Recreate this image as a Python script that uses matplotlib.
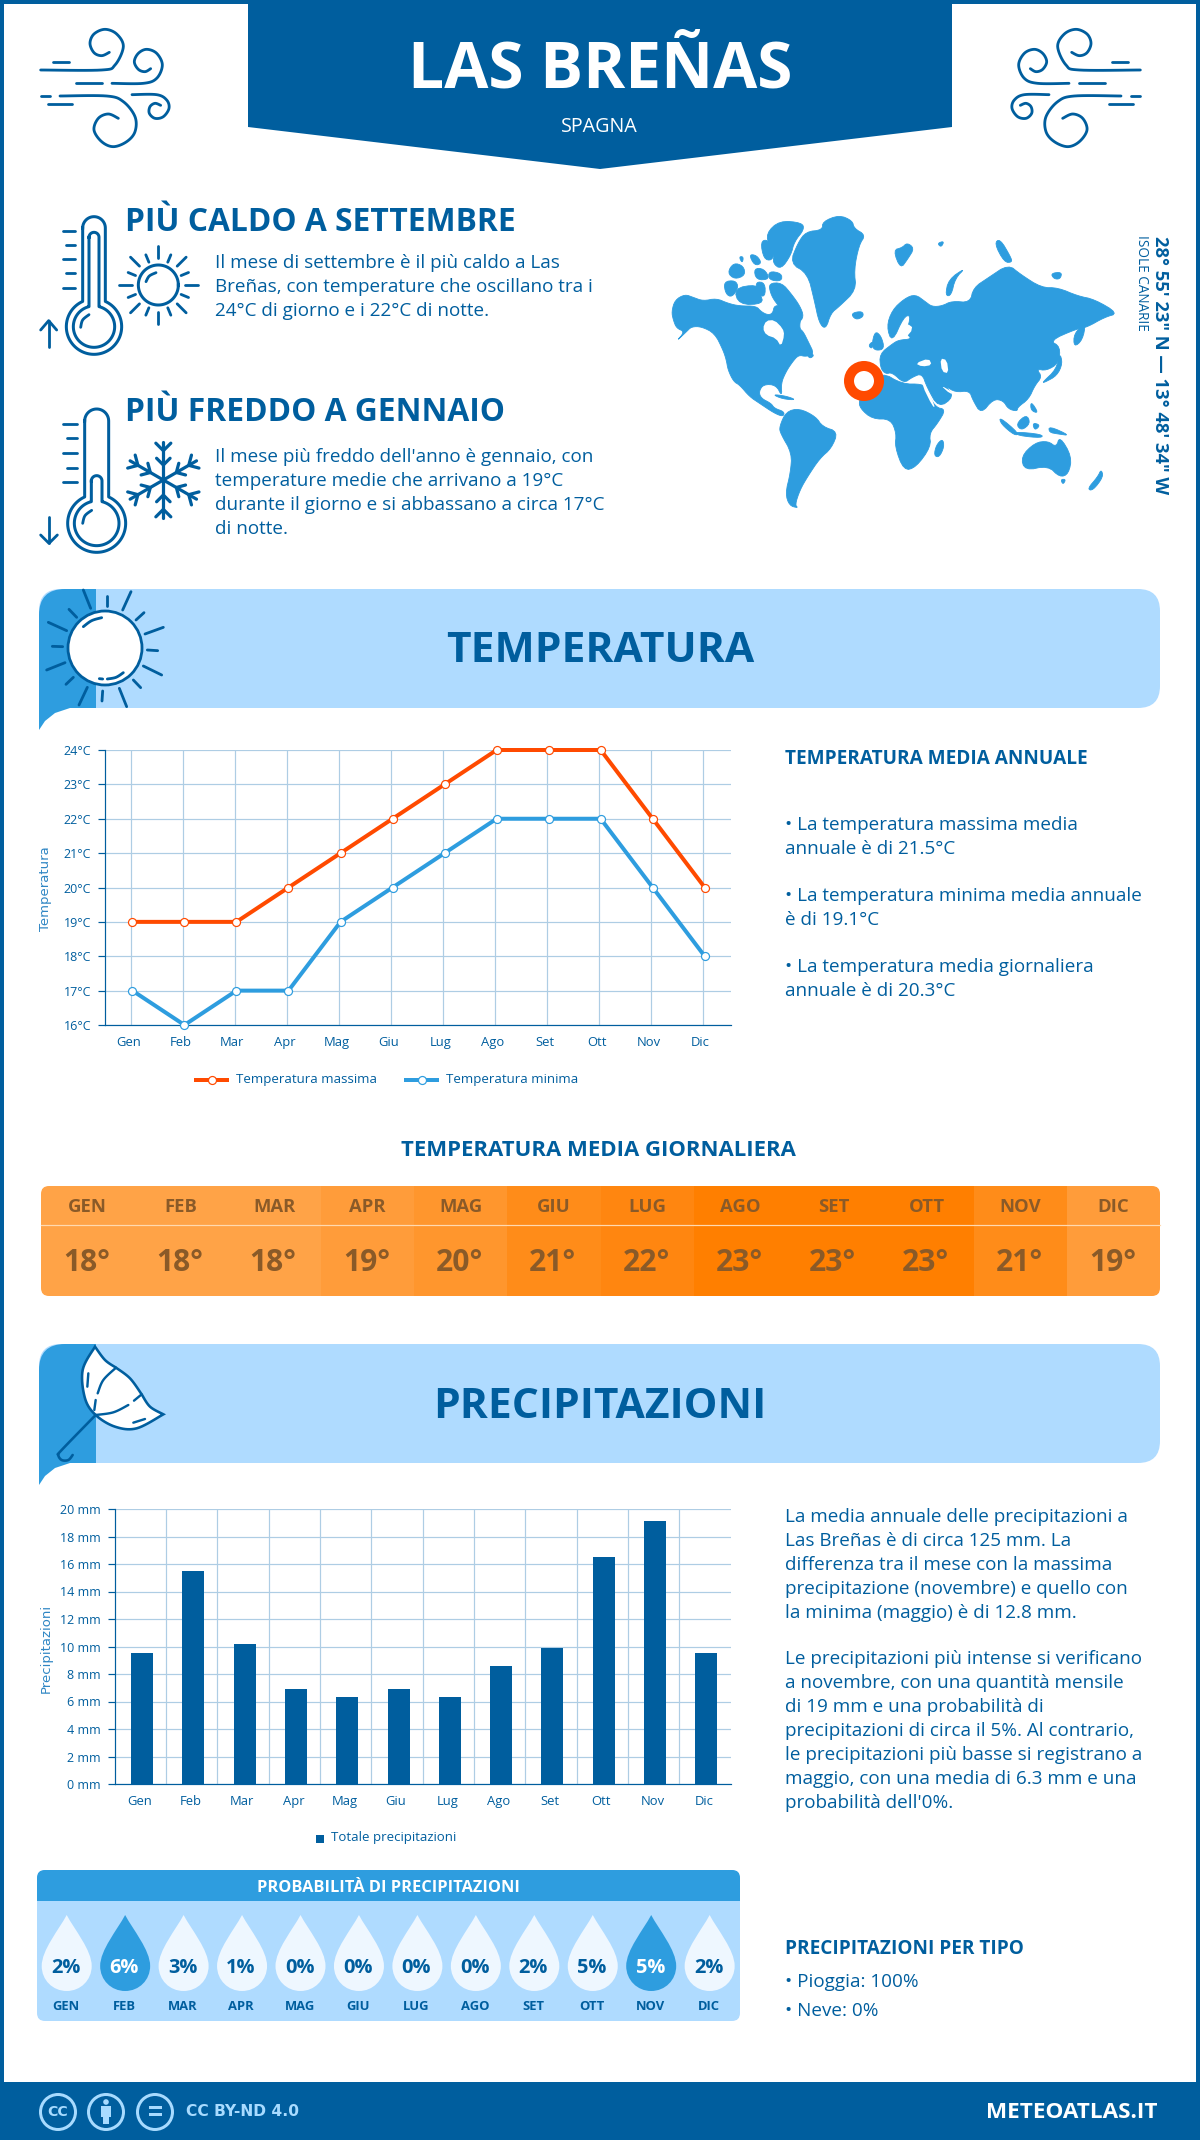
import numpy as np
import matplotlib
matplotlib.use('Agg')
import matplotlib.pyplot as plt
from matplotlib.path import Path
from matplotlib.patches import PathPatch, FancyBboxPatch, Rectangle, Circle, Polygon
from matplotlib.transforms import ScaledTranslation

plt.rcParams['font.family'] = ['Open Sans', 'DejaVu Sans']

# ---- data ----
months = ['Gen', 'Feb', 'Mar', 'Apr', 'Mag', 'Giu', 'Lug', 'Ago', 'Set', 'Ott', 'Nov', 'Dic']
months_up = ['GEN', 'FEB', 'MAR', 'APR', 'MAG', 'GIU', 'LUG', 'AGO', 'SET', 'OTT', 'NOV', 'DIC']
temp_max = [19, 19, 19, 20, 21, 22, 23, 24, 24, 24, 22, 20]
temp_min = [17, 16, 17, 17, 19, 20, 21, 22, 22, 22, 20, 18]
temp_avg = [18, 18, 18, 19, 20, 21, 22, 23, 23, 23, 21, 19]
precip = [9.5, 15.5, 10.2, 6.9, 6.3, 6.9, 6.3, 8.6, 9.9, 16.5, 19.1, 9.5]
prob = [2, 6, 3, 1, 0, 0, 0, 0, 2, 5, 5, 2]
temp_ticks = list(range(16, 25))
precip_ticks = list(range(0, 21, 2))
avg_colors = {18: '#FFA347', 19: '#FF9C3A', 20: '#FF962D', 21: '#FF8C19', 22: '#FF8610', 23: '#FF7F00'}

BLUE = '#005E9E'
MID = '#2E9DDF'
LIGHT = '#AFDBFF'
RED = '#FF4A00'
GRID = '#AECDE4'
PALE = '#EEF7FF'
AXT = '#2F86C4'
PX = 0.72
BODY = 18.85

fig = plt.figure(figsize=(12, 21.4), dpi=100, facecolor='white')
ax = fig.add_axes([0, 0, 1, 1])
ax.set_xlim(0, 1200)
ax.set_ylim(2140, 0)
ax.axis('off')


def T(x, y, s, px, weight='normal', color=BLUE, ha='left', va='center', **kw):
    return ax.text(x, y, s, fontsize=px * PX, fontweight=weight, color=color, ha=ha, va=va, **kw)


def smooth(pts, n=10):
    p = np.array([pts[0]] + list(pts) + [pts[-1]], float)
    out = []
    for i in range(1, len(p) - 2):
        t = np.linspace(0, 1, n, endpoint=False)[:, None]
        a, b, c, d = p[i - 1], p[i], p[i + 1], p[i + 2]
        out.append(0.5 * (2 * b + (c - a) * t + (2 * a - 5 * b + 4 * c - d) * t ** 2 + (3 * b - a - 3 * c + d) * t ** 3))
    out.append(p[-2][None, :])
    return np.vstack(out)


def chaikin(poly, it=2):
    q = np.array(poly, float)
    for _ in range(it):
        nxt = np.roll(q, -1, axis=0)
        q = np.vstack([np.c_[0.75 * q + 0.25 * nxt], np.c_[0.25 * q + 0.75 * nxt]])[np.argsort(np.r_[np.arange(len(q)) * 2, np.arange(len(q)) * 2 + 1])]
    return q


def stroke(pts, ox, oy, s=3.0, lw=2.8, color=BLUE, curve=True, mirror=None, zorder=5):
    p = smooth(pts) if curve and len(pts) > 2 else np.array(pts, float)
    x = ox + p[:, 0] / s
    y = oy + p[:, 1] / s
    if mirror is not None:
        x = mirror - x
    ax.plot(x, y, color=color, lw=lw * PX, solid_capstyle='round', solid_joinstyle='round', zorder=zorder)


def rrect(x0, y0, x1, y1, r, **kw):
    return FancyBboxPatch((x0, y0), x1 - x0, y1 - y0, boxstyle=f'round,pad=0,rounding_size={r}', lw=0, transform=ax.transData, **kw)


# ---- frame / footer ----
for r in [(0, 0, 1200, 4), (0, 0, 4, 2140), (1196, 0, 4, 2140), (0, 2082, 1200, 58)]:
    ax.add_patch(Rectangle(r[:2], r[2], r[3], color=BLUE, lw=0))

# ---- banner ----
ax.add_patch(Polygon([(248, 0), (952, 0), (952, 127), (600, 169), (248, 127)], color=BLUE, lw=0))
T(600, 71, 'LAS BREÑAS', 64, 'bold', 'white', ha='center')
T(599, 127, 'SPAGNA', 19.8, color='white', ha='center')

# ---- wind icons ----
wind = [
    [(62, 180), (245, 180), (285, 165), (310, 110), (290, 72), (255, 58), (222, 72), (210, 100), (222, 128), (245, 137), (268, 127)],
    [(276, 220), (370, 220), (410, 205), (427, 165), (410, 130), (380, 118), (355, 130), (343, 155), (355, 178), (375, 185), (392, 176)],
    [(120, 258), (260, 258), (310, 275), (345, 320), (345, 365), (320, 395), (280, 410), (245, 395), (222, 360), (235, 325), (265, 312), (295, 325)],
    [(336, 254), (410, 254), (440, 270), (447, 295), (430, 320), (405, 325), (388, 310), (390, 290), (405, 280), (422, 286)],
    [(98, 155), (148, 155)], [(168, 220), (245, 220)], [(62, 258), (90, 258)], [(85, 283), (155, 283)],
]
for w in wind:
    stroke(w, 20, 10)
    stroke(w, 20, 10, mirror=1181)


# ---- thermometers ----
def tube_bulb(cx, top, hw, by, r, ox, oy):
    ang = np.arcsin(hw / r)
    th = np.linspace(-np.pi / 2 + ang, 3 * np.pi / 2 - ang, 80)
    bx = cx + r * np.cos(th)
    bulb_y = by + r * np.sin(th)
    tt = np.linspace(np.pi, 2 * np.pi, 30)
    tx = cx + hw * np.cos(tt)
    ty = top + hw + hw * np.sin(tt)
    X = np.r_[tx, cx + hw, bx[0:], cx - hw, tx[0]]
    Y = np.r_[ty, by - r * np.cos(ang), bulb_y, by - r * np.cos(ang), ty[0]]
    ax.plot(ox + X / 3, oy + Y / 3, color=BLUE, lw=3 * PX, solid_joinstyle='round', zorder=5)


tube_bulb(192, 50, 34, 380, 83, 30, 200)
tube_bulb(192, 97, 15, 380, 62, 30, 200)
stroke([(152, 382), (158, 360), (177, 344)], 30, 200)
for yy, x0 in zip([93, 135, 178, 220, 263], [98, 108, 98, 108, 98]):
    stroke([(x0, yy), (135, yy)], 30, 200)
stroke([(56, 440), (56, 362)], 30, 200)
stroke([(32, 390), (56, 362), (80, 390)], 30, 200, curve=False)

tube_bulb(200, 42, 36, 385, 87, 30, 395)
tube_bulb(200, 242, 16, 385, 67, 30, 395)
stroke([(158, 385), (165, 362), (185, 346)], 30, 395)
for yy, x0 in zip([87, 130, 174, 218, 262], [100, 110, 100, 110, 100]):
    stroke([(x0, yy), (140, yy)], 30, 395)
stroke([(57, 365), (57, 445)], 30, 395)
stroke([(32, 420), (57, 445), (82, 420)], 30, 395, curve=False)

# small sun
scx, scy = 385, 255
th = np.linspace(0, 2 * np.pi, 100)
ax.plot(30 + (scx + 60 * np.cos(th)) / 3, 200 + (scy + 60 * np.sin(th)) / 3, color=BLUE, lw=3 * PX)
stroke([(348, 245), (358, 228), (378, 218)], 30, 200)
for k in range(8):
    a = k * np.pi / 4
    stroke([(scx + 80 * np.cos(a), scy + 80 * np.sin(a)), (scx + 118 * np.cos(a), scy + 118 * np.sin(a))], 30, 200)
    a += np.pi / 8
    stroke([(scx + 74 * np.cos(a), scy + 74 * np.sin(a)), (scx + 98 * np.cos(a), scy + 98 * np.sin(a))], 30, 200)

# snowflake
fx, fy = 400, 255
for k in range(6):
    a = np.pi / 2 + k * np.pi / 3
    d = np.array([np.cos(a), np.sin(a)])
    n = np.array([-d[1], d[0]])
    c = np.array([fx, fy])
    stroke([tuple(c), tuple(c + 115 * d)], 30, 395, lw=3.2)
    for rr, L in [(88, 30), (45, 27)]:
        b = c + rr * d
        stroke([tuple(b + L * (0.75 * d + 0.75 * n)), tuple(b), tuple(b + L * (0.75 * d - 0.75 * n))], 30, 395, curve=False, lw=3.2)

# ---- key facts ----
T(125, 222.5, 'PIÙ CALDO A SETTEMBRE', 31.8, 'bold')
for y, s in zip([263.5, 287, 310.5], ['Il mese di settembre è il più caldo a Las',
                                       'Breñas, con temperature che oscillano tra i',
                                       '24°C di giorno e i 22°C di notte.']):
    T(215, y, s, BODY)
T(125, 412.5, 'PIÙ FREDDO A GENNAIO', 31.8, 'bold')
for y, s in zip([457.5, 481.5, 505, 529], ["Il mese più freddo dell'anno è gennaio, con",
                                            'temperature medie che arrivano a 19°C',
                                            'durante il giorno e si abbassano a circa 17°C',
                                            'di notte.']):
    T(215, y, s, BODY)

# ---- world map (simplified decoration) ----
land = [
    # North America
    [(35, 335), (45, 300), (75, 283), (100, 292), (130, 303), (170, 295), (205, 310), (240, 318), (290, 318), (305, 335), (325, 345), (340, 340), (345, 315), (375, 320), (400, 335), (425, 350), (420, 385), (432, 395), (447, 425), (465, 462), (440, 470), (418, 465), (400, 485), (380, 515), (365, 550), (368, 590), (350, 555), (312, 553), (298, 575), (305, 595), (335, 610), (345, 625), (375, 635), (372, 650), (345, 640), (300, 610), (270, 590), (240, 555), (222, 545), (205, 510), (200, 480), (190, 450), (165, 400), (125, 380), (95, 380), (80, 395), (48, 425), (75, 395), (50, 385), (40, 360)],
    # Greenland
    [(490, 65), (540, 45), (580, 62), (585, 85), (620, 105), (600, 135), (585, 210), (592, 270), (540, 320), (515, 340), (500, 388), (480, 370), (465, 300), (445, 220), (392, 190), (415, 130), (440, 95), (490, 90)],
    # Arctic Canada
    [(320, 100), (360, 62), (428, 68), (435, 88), (405, 125), (395, 165), (365, 208), (340, 190), (345, 160), (330, 140)],
    [(303, 125), (325, 118), (347, 155), (337, 182), (313, 177)],
    [(203, 218), (222, 188), (252, 198), (257, 226), (225, 238)], [(268, 163), (292, 166), (307, 190), (285, 197)],
    [(192, 245), (227, 241), (237, 262), (217, 292), (198, 282)], [(223, 265), (292, 253), (302, 280), (312, 312), (238, 314)],
    [(328, 250), (367, 248), (397, 283), (422, 318), (434, 350), (417, 370), (383, 347), (348, 307), (333, 280)],
    [(283, 205), (314, 206), (332, 238), (290, 240)], [(328, 213), (367, 220), (367, 244), (328, 240)],
    [(288, 245), (317, 248), (317, 292), (293, 282)], [(440, 453), (467, 465), (450, 477)],
    [(238, 170), (252, 170), (248, 190)],
    # Iceland
    [(575, 340), (610, 333), (614, 350), (590, 360)],
    # South America
    [(360, 680), (380, 635), (420, 625), (470, 650), (490, 680), (537, 695), (517, 745), (482, 775), (445, 830), (422, 870), (407, 915), (417, 924), (390, 917), (378, 880), (393, 820), (398, 760), (363, 700)],
    # Africa
    [(600, 600), (620, 560), (668, 516), (730, 552), (790, 552), (800, 565), (830, 622), (862, 628), (837, 670), (812, 700), (817, 740), (772, 802), (735, 812), (708, 740), (713, 700), (695, 657), (640, 657), (603, 625)],
    [(852, 716), (857, 740), (842, 772), (826, 767), (833, 735)],
    # Eurasia
    [(665, 505), (662, 462), (700, 432), (720, 420), (760, 417), (742, 400), (757, 345), (735, 350), (700, 428), (683, 380), (700, 330), (738, 295), (770, 283), (800, 305), (820, 320), (850, 318), (880, 303), (935, 308), (945, 263), (990, 233), (1050, 193), (1087, 223), (1150, 263), (1200, 263), (1260, 288), (1310, 298), (1382, 340), (1340, 352), (1287, 382), (1255, 387), (1175, 422), (1207, 440), (1202, 490), (1165, 512), (1135, 507), (1152, 530), (1130, 557), (1112, 597), (1078, 622), (1077, 634), (1050, 627), (1035, 602), (1005, 597), (968, 642), (943, 600), (933, 572), (890, 577), (860, 557), (887, 590), (840, 624), (805, 562), (790, 520), (760, 532), (735, 550), (700, 517), (680, 522)],
    # UK / Ireland
    [(638, 437), (648, 393), (667, 408), (677, 447), (650, 452)], [(628, 437), (642, 423), (640, 447)],
    # Svalbard etc.
    [(703, 150), (730, 143), (745, 128), (767, 145), (747, 177), (725, 207)], [(836, 130), (857, 123), (848, 142)],
    [(860, 287), (870, 238), (922, 203), (890, 235), (878, 287)],
    [(1008, 130), (1025, 116), (1057, 170), (1062, 187), (1038, 187)],
    [(1178, 220), (1212, 216), (1207, 237), (1188, 237)],
    [(1248, 442), (1248, 400), (1284, 368), (1274, 420)],
    [(1153, 547), (1195, 508), (1205, 458), (1214, 490), (1197, 527), (1160, 547)],
    # Australasia
    [(1088, 770), (1130, 728), (1170, 723), (1195, 742), (1205, 708), (1242, 770), (1232, 822), (1205, 832), (1170, 797), (1100, 812)],
    [(1208, 838), (1224, 838), (1215, 854)], [(1288, 867), (1320, 830), (1330, 808), (1337, 830), (1305, 872)],
    [(1023, 650), (1082, 700), (1070, 707), (1028, 672)], [(1073, 672), (1105, 643), (1117, 670), (1090, 692)],
    [(1173, 678), (1237, 707), (1200, 702), (1173, 697)], [(1118, 603), (1142, 640), (1118, 632)],
    [(1068, 695), (1152, 703), (1152, 714), (1080, 707)], [(1123, 668), (1147, 675), (1130, 692)],
    [(338, 583), (380, 588), (412, 600), (370, 597)],
]
holes = [
    [(310, 385), (320, 362), (345, 360), (370, 385), (375, 405), (365, 440), (350, 415), (320, 405)],
    [(770, 490), (810, 475), (820, 495), (790, 500)],
    [(845, 475), (865, 480), (870, 520), (850, 515)],
    [(735, 420), (765, 385), (745, 370), (725, 400)],
    [(790, 555), (800, 555), (830, 620), (822, 620)],
    [(845, 555), (885, 578), (875, 582)],
]
for poly in land:
    q = chaikin(poly)
    ax.add_patch(Polygon(np.c_[660 + q[:, 0] / 3.015, 200 + q[:, 1] / 3], closed=True, fc=MID, ec=MID, lw=0.6))
for poly in holes:
    q = chaikin(poly, 1)
    ax.add_patch(Polygon(np.c_[660 + q[:, 0] / 3.015, 200 + q[:, 1] / 3], closed=True, color='white', lw=0))
ax.add_patch(Circle((864, 381), 15, fc='white', ec=RED, lw=10 * PX, zorder=6))
T(1160, 365, '28° 55\' 23" N — 13° 48\' 34" W', 18.4, 'bold', ha='center', rotation=270)
T(1142, 283, 'ISOLE CANARIE', 13.5, ha='center', rotation=270)


# ---- section bands ----
def band(top, title, ty):
    bot = top + 119
    ax.add_patch(rrect(39, top, 1160, bot, 22, color=LIGHT))
    ax.add_patch(Rectangle((39, bot - 30), 60, 30, color=LIGHT, lw=0))
    clip = rrect(39, top, 400, bot + 100, 26, color=MID)
    dark = Rectangle((39, top), 57, 119, color=MID, lw=0)
    ax.add_patch(dark)
    dark.set_clip_path(clip)
    curve = np.array([(39, bot), (96, bot), (70, bot), (55, bot + 5), (45, bot + 13), (39, bot + 22)], float)
    ax.add_patch(Polygon(curve, closed=True, color=MID, lw=0))
    T(600, ty, title, 42.5, 'bold', ha='center')


band(589, 'TEMPERATURA', 652)
band(1344, 'PRECIPITAZIONI', 1408)

# sun icon on band
ax.add_patch(Circle((105, 648), 37, fc='white', ec=BLUE, lw=2.8 * PX, zorder=5))
rays = [((160, 30), (182, 85)), ((303, 35), (278, 90)), ((400, 142), (345, 162)), ((395, 285), (340, 258)),
        ((290, 380), (268, 325)), ((147, 375), (172, 322)), ((50, 270), (105, 248)), ((55, 127), (110, 152)),
        ((230, 47), (230, 78)), ((342, 98), (318, 120)), ((383, 212), (352, 210)), ((332, 323), (310, 300)),
        ((216, 363), (218, 333)), ((108, 313), (130, 292)), ((67, 199), (98, 200)), ((117, 88), (140, 112))]
for a, b in rays:
    stroke([a, b], 30, 580)
stroke([(160, 140), (185, 122), (215, 113)], 30, 580)
stroke([(232, 297), (258, 292), (280, 278)], 30, 580)
stroke([(208, 296), (218, 297)], 30, 580)

# umbrella icon
canopy = np.vstack([smooth([(195, 35), (158, 105), (165, 190), (197, 240), (255, 275), (320, 280), (400, 238)]),
                    smooth([(400, 238), (360, 215), (335, 178)]),
                    smooth([(335, 178), (300, 130), (258, 98)]),
                    smooth([(258, 98), (225, 75), (195, 35)])])
ax.add_patch(Polygon(np.c_[30 + canopy[:, 0] / 3, 1335 + canopy[:, 1] / 3], closed=True, fc='white', ec=BLUE, lw=2.6 * PX, zorder=5))
for seg in [[(258, 98), (220, 135), (203, 175)], [(197, 195), (193, 225)], [(197, 240), (250, 232), (295, 210)],
            [(312, 197), (335, 178)], [(175, 115), (172, 155)], [(310, 263), (345, 252)]]:
    stroke(seg, 30, 1335, lw=2.4, zorder=6)
stroke([(197, 240), (95, 345), (85, 360), (95, 375), (115, 375), (128, 360)], 30, 1335, lw=2.6, zorder=6)


# ---- inset helper ----
def inset(l, t, r, b):
    a = fig.add_axes([l / 1200, 1 - b / 2140, (r - l) / 1200, (b - t) / 2140])
    a.set_facecolor('none')
    for s in ['top', 'right']:
        a.spines[s].set_visible(False)
    for s in ['left', 'bottom']:
        a.spines[s].set_color(BLUE)
        a.spines[s].set_linewidth(1.2 * PX)
    a.set_axisbelow(True)
    return a


# ---- temperature chart ----
a1 = inset(105, 750, 731, 1025)
xs = np.arange(12)
a1.set_xlim((105 - 132.4) / 52.03, (731 - 132.4) / 52.03)
a1.set_ylim(16, 24)
a1.set_yticks(temp_ticks)
a1.set_yticklabels([f'{v}°C' for v in temp_ticks])
a1.set_xticks(xs - 0.03)
a1.set_xticklabels(months)
a1.grid(True, color=GRID, lw=1.2 * PX)
a1.tick_params(axis='x', length=0, colors=BLUE, labelsize=13 * PX, pad=8)
a1.tick_params(axis='y', length=5, width=1.2 * PX, color=BLUE, labelcolor=BLUE, labelsize=12.5 * PX, pad=5)
off = ScaledTranslation(-2.5 / 100, 0, fig.dpi_scale_trans)
for lab in a1.get_xticklabels():
    lab.set_transform(lab.get_transform() + off)
a1.plot(xs, temp_max, color=RED, lw=4 * PX, marker='o', ms=8 * PX, mfc='white', mec=RED, mew=1.2 * PX, clip_on=False, label='Temperatura massima', zorder=5)
a1.plot(xs, temp_min, color=MID, lw=4 * PX, marker='o', ms=8 * PX, mfc='white', mec=MID, mew=1.2 * PX, clip_on=False, label='Temperatura minima', zorder=5)
ax.text(46, 889, 'Temperatura', fontsize=13.3 * PX, color=AXT, rotation=90, ha='center', va='center', family='DejaVu Sans')
leg = [(196, 227, 236, RED, 'Temperatura massima'), (406, 437, 446, MID, 'Temperatura minima')]
for x0, x1, tx, c, s in leg:
    ax.plot([x0, x1], [1080, 1080], color=c, lw=4 * PX)
    ax.plot([(x0 + x1) / 2], [1080], 'o', ms=8 * PX, mfc='white', mec=c, mew=1.2 * PX)
    T(tx, 1079, s, 13.2)

T(785, 759, 'TEMPERATURA MEDIA ANNUALE', 19, 'bold')
for y, s in zip([825.5, 848.5, 896, 920, 967.5, 991], ['• La temperatura massima media', 'annuale è di 21.5°C',
                                                        '• La temperatura minima media annuale', 'è di 19.1°C',
                                                        '• La temperatura media giornaliera', 'annuale è di 20.3°C']):
    T(785, y, s, BODY)

# ---- daily mean table ----
T(598, 1150, 'TEMPERATURA MEDIA GIORNALIERA', 22.2, 'bold', ha='center')
tclip = rrect(41, 1186, 1160, 1296, 8, color='none')
w = (1160 - 41) / 12
for i, (m, v) in enumerate(zip(months_up, temp_avg)):
    rect = Rectangle((41 + i * w, 1186), w + 0.5, 110, color=avg_colors[v], lw=0)
    ax.add_patch(rect)
    rect.set_clip_path(tclip)
    cx = 41 + (i + 0.5) * w
    T(cx, 1207, m, 18.5, 'bold', color='#8A5A28', ha='center')
    T(cx - 1, 1263, f'{v}°', 30, 'bold', color='#8A5A28', ha='center')
ax.plot([41, 1160], [1225, 1225], color='#FFD9B0', lw=1.2 * PX)

# ---- precipitation chart ----
a2 = inset(115, 1509, 731, 1784)
a2.set_xlim((115 - 142) / 51.3, (731 - 142) / 51.3)
a2.set_ylim(0, 20)
a2.set_yticks(precip_ticks)
a2.set_yticklabels([f'{v} mm' for v in precip_ticks])
a2.set_xticks(xs)
a2.set_xticklabels(months)
a2.set_xticks(xs[:-1] + 0.47, minor=True)
a2.grid(True, axis='y', color=GRID, lw=1.2 * PX)
a2.grid(True, axis='x', which='minor', color=GRID, lw=1.2 * PX)
a2.tick_params(axis='x', which='both', length=0)
a2.tick_params(axis='x', colors=BLUE, labelsize=13 * PX, pad=8)
a2.tick_params(axis='y', length=5, width=1.2 * PX, color=BLUE, labelcolor=BLUE, labelsize=12.5 * PX, pad=5)
off2 = ScaledTranslation(-2.5 / 100, 0, fig.dpi_scale_trans)
for lab in a2.get_xticklabels():
    lab.set_transform(lab.get_transform() + off2)
a2.bar(xs, precip, width=22 / 51.3, color=BLUE, zorder=3, label='Totale precipitazioni')
ax.text(46, 1648, 'Precipitazioni', fontsize=13.3 * PX, color=AXT, rotation=90, ha='center', va='center', family='DejaVu Sans')
ax.add_patch(Rectangle((316, 1835), 8, 8, color=BLUE, lw=0))
T(331, 1838, 'Totale precipitazioni', 13.2)

ptext = ['La media annuale delle precipitazioni a', 'Las Breñas è di circa 125 mm. La',
         'differenza tra il mese con la massima', 'precipitazione (novembre) e quello con',
         'la minima (maggio) è di 12.8 mm.', 'Le precipitazioni più intense si verificano',
         'a novembre, con una quantità mensile', 'di 19 mm e una probabilità di',
         'precipitazioni di circa il 5%. Al contrario,', 'le precipitazioni più basse si registrano a',
         'maggio, con una media di 6.3 mm e una', "probabilità dell'0%."]
for y, s in zip([1517.5, 1540.5, 1564.5, 1588.5, 1612.5, 1659.5, 1683.5, 1707.5, 1731.5, 1754.5, 1778.5, 1802.5], ptext):
    T(785, y, s, BODY)

# ---- probability panel ----
ax.add_patch(rrect(37, 1870, 740, 2021, 8, color=LIGHT))
hdr = Rectangle((37, 1870), 703, 31, color=MID, lw=0)
ax.add_patch(hdr)
hdr.set_clip_path(rrect(37, 1870, 740, 2021, 8, color='none'))
T(388, 1888, 'PROBABILITÀ DI PRECIPITAZIONI', 16.4, 'bold', 'white', ha='center')
codes = [Path.MOVETO] + [Path.CURVE4] * 12 + [Path.CLOSEPOLY]
for i, (m, v) in enumerate(zip(months_up, prob)):
    cx = 66.7 + i * 58.45
    cy = 1966
    shape = [(0, -51), (8, -36), (25, -16), (25, 0), (25, 14), (14, 25), (0, 25), (-14, 25), (-25, 14), (-25, 0), (-25, -16), (-8, -36), (0, -51), (0, -51)]
    verts = [(cx + a, cy + b) for a, b in shape]
    hi = m in ('FEB', 'NOV')
    ax.add_patch(PathPatch(Path(verts, codes), fc=MID if hi else PALE, lw=0))
    T(cx - 1, 1968, f'{v}%', 20, 'bold', 'white' if hi else BLUE, ha='center')
    T(cx - 1, 2006, m, 13, 'bold', ha='center')

T(785, 1949, 'PRECIPITAZIONI PER TIPO', 19, 'bold')
T(785, 1982, '• Pioggia: 100%', BODY)
T(785, 2010.5, '• Neve: 0%', BODY)

# ---- footer ----
FC = '#A8DBFF'
for cx in [58, 106, 155]:
    ax.add_patch(Circle((cx, 2112), 17.5, fc='none', ec=FC, lw=3 * PX, zorder=6))
T(58, 2112, 'CC', 14, 'bold', FC, ha='center', family='DejaVu Sans', zorder=7)
ax.add_patch(Circle((106, 2102), 2.8, color=FC, lw=0, zorder=7))
ax.add_patch(Rectangle((101, 2106), 10, 11, color=FC, lw=0, zorder=7))
ax.add_patch(Rectangle((103, 2116), 6, 8, color=FC, lw=0, zorder=7))
ax.add_patch(Rectangle((149, 2106), 13, 3, color=FC, lw=0, zorder=7))
ax.add_patch(Rectangle((149, 2113), 13, 3, color=FC, lw=0, zorder=7))
T(186, 2112, 'CC BY-ND 4.0', 15.5, 'bold', FC, family='DejaVu Sans')
T(1158, 2113, 'METEOATLAS.IT', 22.5, 'bold', 'white', ha='right')

fig.savefig('out.png', dpi=100)
